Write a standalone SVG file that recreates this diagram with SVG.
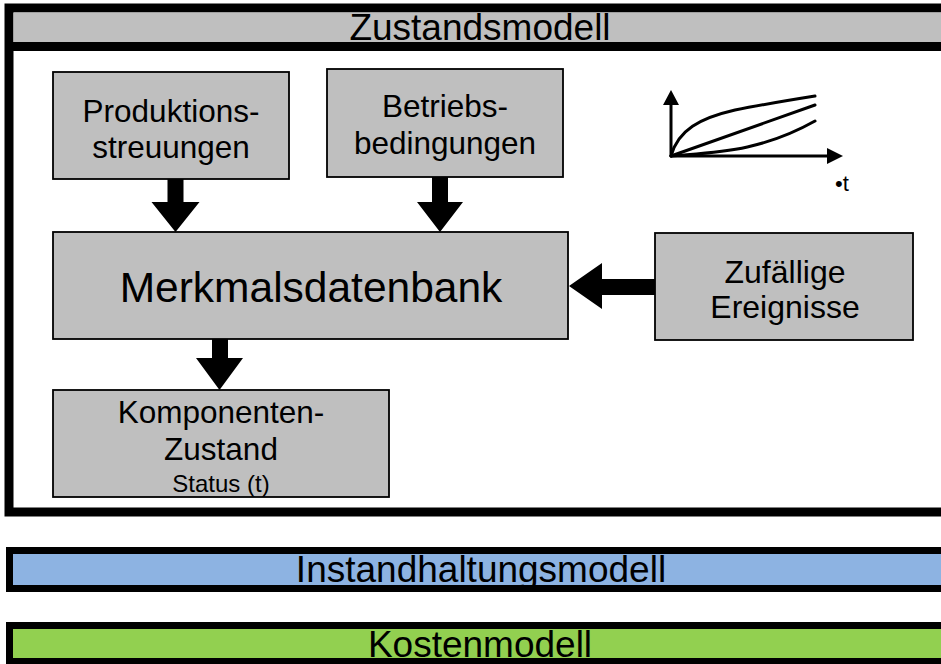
<svg xmlns="http://www.w3.org/2000/svg" width="941" height="664" viewBox="0 0 941 664">
<style>
.box{fill:#BFBFBF;stroke:#000;stroke-width:1.8}
.t{font-family:"Liberation Sans",Arial,sans-serif;fill:#000;text-anchor:middle}
.arr{fill:#000}
.crv{fill:none;stroke:#000;stroke-width:3;stroke-linecap:round}
</style>
<rect width="941" height="664" fill="#fff"/>
<g id="zustandsmodell">
<rect x="9" y="8" width="1000" height="504" fill="#fff" stroke="#000" stroke-width="9"/>
<rect x="13.5" y="12.5" width="1000" height="30" fill="#BFBFBF"/>
<rect x="9" y="42" width="1000" height="9" fill="#000"/>
<text class="t" x="480" y="40" font-size="37">Zustandsmodell</text>
</g>
<g id="produktion">
<rect class="box" x="53" y="72" width="236" height="107"/>
<text class="t" x="171" y="122" font-size="31.5">Produktions-</text>
<text class="t" x="171" y="158" font-size="31.5">streuungen</text>
</g>
<g id="betrieb">
<rect class="box" x="327" y="69" width="236" height="108"/>
<text class="t" x="445" y="117" font-size="31.5">Betriebs-</text>
<text class="t" x="445" y="154" font-size="31.5">bedingungen</text>
</g>
<g id="merkmal">
<rect class="box" x="53" y="232" width="515" height="107"/>
<text class="t" x="311" y="302" font-size="42.5">Merkmalsdatenbank</text>
</g>
<g id="zufall">
<rect class="box" x="655" y="233" width="258" height="107"/>
<text class="t" x="785" y="283" font-size="32">Zufällige</text>
<text class="t" x="785" y="318" font-size="32">Ereignisse</text>
</g>
<g id="komponente">
<rect class="box" x="53" y="390" width="336" height="107"/>
<text class="t" x="221" y="423" font-size="31.5">Komponenten-</text>
<text class="t" x="221" y="460" font-size="31.5">Zustand</text>
<text class="t" x="221" y="492" font-size="24">Status (t)</text>
</g>
<g id="chart">
<line x1="671" y1="156" x2="671" y2="104" stroke="#000" stroke-width="3"/>
<polygon class="arr" points="663,105 679,105 671,90"/>
<line x1="671" y1="156" x2="828" y2="156" stroke="#000" stroke-width="3"/>
<polygon class="arr" points="827,148 827,164 843,156"/>
<path class="crv" d="M671,156 C678,130 700,118 735,110 C765,104 790,100 815,96"/>
<path class="crv" d="M671,156 L815,105"/>
<path class="crv" d="M671,156 C715,152 760,152 815,121"/>
<text class="t" x="842" y="191" font-size="22">•t</text>
</g>
<g id="connectors">
<polygon class="arr" points="167.5,179 183.5,179 183.5,202 199.5,202 175.5,232 151.5,202 167.5,202"/>
<polygon class="arr" points="432,177 448,177 448,202 463,202 440,232 417,202 432,202"/>
<polygon class="arr" points="212,339 228,339 228,358 243,358 219.5,390 196,358 212,358"/>
<polygon class="arr" points="655,279 655,295 602,295 602,309 569,286 602,263 602,279"/>
</g>
<g id="instandhaltung">
<rect x="9.5" y="550.5" width="1000" height="38" fill="#8DB3E2"/>
<text class="t" x="481" y="582" font-size="37">Instandhaltungsmodell</text>
<rect x="9.5" y="550.5" width="1000" height="38" fill="none" stroke="#000" stroke-width="7"/>
</g>
<g id="kosten">
<rect x="9.5" y="625.5" width="1000" height="36" fill="#92D050"/>
<text class="t" x="480" y="657" font-size="37">Kostenmodell</text>
<rect x="9.5" y="625.5" width="1000" height="36" fill="none" stroke="#000" stroke-width="7"/>
</g>
</svg>
